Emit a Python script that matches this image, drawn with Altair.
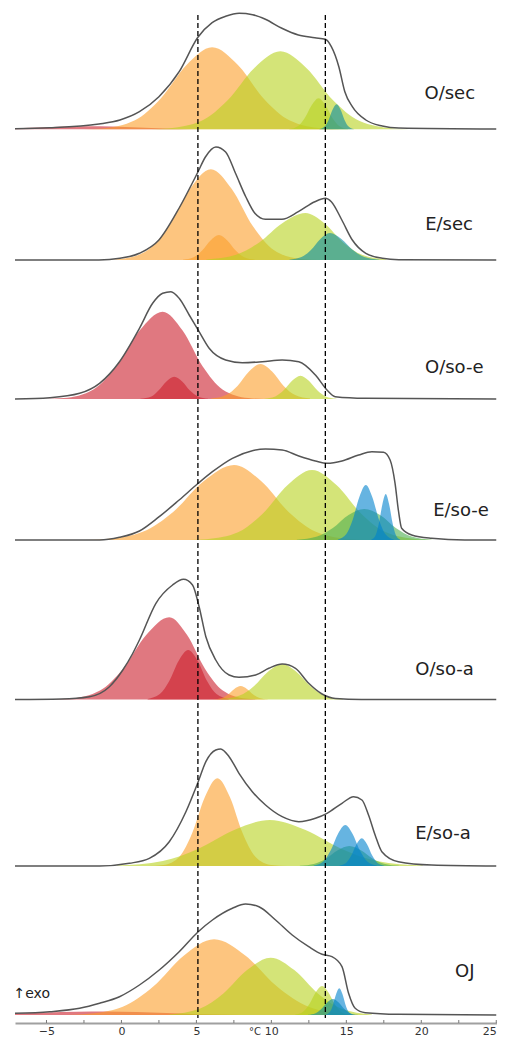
import altair as alt
import pandas as pd

# ---------------- data (temperature in °C, heat flow in arbitrary units) ----------------
PANELS = ["O/sec", "E/sec", "O/so-e", "E/so-e", "O/so-a", "E/so-a", "OJ"]

# O/sec
P1_ENV_T = [-7.1, -4.8, -1.5, -0.1, 1.2, 2.5, 3.85, 5.1, 6.05, 6.95, 7.85, 8.75, 9.6, 10.7, 11.8, 12.9, 13.6, 14.0, 14.5, 14.9, 15.4, 16.3, 17.4, 18.5, 25.0]
P1_ENV_H = [0.6, 1.5, 5.3, 9.3, 17.6, 32.6, 57.6, 92, 106.6, 113, 116, 114.6, 110, 101, 94.3, 91.6, 90, 82.6, 62.6, 37.6, 22.6, 9.3, 3.3, 1.3, 0.3]
P1_RED_T = [-7.1, -5.0, -3.25, -1.5, 0.25, 2.0, 3.75, 6.0]
P1_RED_H = [1.0, 2.0, 2.8, 3.0, 2.4, 1.2, 0.4, 0.0]
P1_ORANGE_T = [-2.5, -1.3, 0.9, 2.62, 4.34, 6.05, 7.77, 9.48, 11.2, 13.4, 14.6]
P1_ORANGE_H = [0, 0.9, 9.0, 30.8, 64.2, 82, 64.2, 30.8, 9.0, 0.9, 0]
P1_LGREEN_T = [2.0, 3.1, 5.35, 7.1, 8.85, 10.6, 12.35, 14.1, 15.85, 18.1, 19.2]
P1_LGREEN_H = [0, 0.9, 8.6, 29.3, 61.1, 78, 61.1, 29.3, 8.6, 0.9, 0]
P1_LGREEN2_T = [11.2, 11.79, 12.24, 12.7, 13.15, 13.6, 14.06, 14.52, 15.1]
P1_LGREEN2_H = [0.3, 3.4, 11.6, 24.3, 31, 24.3, 11.6, 3.4, 0.3]
P1_TEAL_T = [13.21, 13.55, 13.82, 14.08, 14.35, 14.62, 14.88, 15.15, 15.49]
P1_TEAL_H = [0.3, 2.75, 9.4, 19.6, 25, 19.6, 9.4, 2.75, 0.3]

# E/sec
P2_ENV_T = [-7.1, -1.5, -0.1, 1.2, 2.5, 3.85, 5.1, 5.6, 6.3, 6.95, 7.6, 8.3, 8.9, 9.6, 10.7, 11.8, 12.9, 13.6, 14.0, 14.7, 15.4, 16.3, 17.4, 18.5, 25.0]
P2_ENV_H = [0, 0, 1.7, 6.7, 20, 52, 88, 103, 113, 108, 87, 63, 46.7, 40.7, 40.7, 48.3, 58.3, 61.7, 58.3, 40, 20, 6.7, 1.7, 0.3, 0]
P2_ORANGE_T = [-1.2, -0.04, 1.76, 3.16, 4.56, 5.96, 7.36, 8.76, 10.16, 11.96, 13.1]
P2_ORANGE_H = [0, 1.0, 10.0, 34.0, 71.0, 90.7, 71.0, 34.0, 10.0, 1.0, 0]
P2_ORANGE2_T = [4.1, 4.82, 5.38, 5.94, 6.5, 7.06, 7.62, 8.18, 8.9]
P2_ORANGE2_H = [0.3, 2.75, 9.4, 19.6, 25, 19.6, 9.4, 2.75, 0.3]
P2_LGREEN_T = [5.67, 7.65, 9.19, 10.73, 12.27, 13.53, 14.79, 16.05, 17.67]
P2_LGREEN_H = [0.5, 5.2, 17.6, 36.8, 47, 36.8, 17.6, 5.2, 0.5]
P2_TEAL_T = [11.2, 12.01, 12.64, 13.27, 13.9, 14.67, 15.44, 16.21, 17.2]
P2_TEAL_H = [0.3, 3.0, 10.1, 21.1, 27, 21.1, 10.1, 3.0, 0.3]

# O/so-e
P3_ENV_T = [-7.1, -4.78, -2.79, -1.46, -0.13, 1.2, 2.08, 2.75, 3.3, 3.85, 4.52, 5.18, 5.85, 6.95, 8.06, 9.39, 10.72, 11.83, 12.94, 13.71, 14.26, 16.26, 25.0]
P3_ENV_H = [0, 1.3, 5.7, 15.7, 37.3, 70.7, 95.7, 105.7, 107.3, 100.7, 84, 67.3, 50.7, 39, 36.3, 37.3, 39, 37.3, 24, 9, 2.3, 0.7, 0]
P3_RED_T = [-5.5, -3.85, -1.87, -0.33, 1.21, 2.75, 4.08, 5.41, 6.74, 8.45, 9.6]
P3_RED_H = [0, 1.0, 9.6, 32.7, 68.4, 87.3, 68.4, 32.7, 9.6, 1.0, 0]
P3_RED2_T = [1.27, 2.0, 2.47, 3.0, 3.52, 4.05, 4.57, 5.1, 5.77]
P3_RED2_H = [0.25, 2.5, 8.4, 17.5, 22.3, 17.5, 8.4, 2.5, 0.25]
P3_ORANGE_T = [5.98, 6.97, 7.74, 8.51, 9.28, 10.05, 10.82, 11.59, 12.58]
P3_ORANGE_H = [0.4, 3.9, 13.1, 27.4, 35, 27.4, 13.1, 3.9, 0.4]
P3_LGREEN_T = [9.54, 10.26, 10.82, 11.38, 11.94, 12.5, 13.06, 13.62, 14.34]
P3_LGREEN_H = [0.26, 2.6, 8.7, 18.2, 23.3, 18.2, 8.7, 2.6, 0.26]

# E/so-e
P4_ENV_T = [-7.1, -1.46, -0.13, 1.2, 2.52, 3.85, 5.12, 6.07, 7.4, 8.73, 9.61, 10.72, 11.83, 12.94, 13.71, 14.71, 15.82, 16.7, 17.48, 17.92, 18.25, 18.47, 18.69, 19.36, 20.69, 22.9, 25.0]
P4_ENV_H = [0, 0, 2.7, 9, 23.3, 40, 56.7, 68.3, 81.7, 89.3, 91, 90, 84, 79, 76.7, 79, 85, 88.3, 87.7, 80, 56.7, 30, 11.7, 5, 1.7, 0, 0]
P4_ORANGE_T = [-2.5, -1.19, 1.42, 3.45, 5.48, 7.51, 9.33, 11.15, 12.97, 15.31, 16.5]
P4_ORANGE_H = [0, 0.8, 8.3, 28.1, 58.7, 75, 58.7, 28.1, 8.3, 0.8, 0]
P4_LGREEN_T = [4.5, 5.66, 7.78, 9.42, 11.07, 12.71, 14.36, 16.0, 17.65, 19.76, 20.9]
P4_LGREEN_H = [0, 0.8, 7.7, 26.3, 54.8, 70, 54.8, 26.3, 7.7, 0.8, 0]
P4_GREEN_T = [11.7, 13.05, 14.1, 15.15, 16.2, 17.25, 18.3, 19.35, 20.7]
P4_GREEN_H = [0.3, 3.5, 12, 25, 31, 25, 12, 3.5, 0.3]
P4_BLUE_T = [14.44, 15.0, 15.43, 15.87, 16.3, 16.73, 17.17, 17.6, 18.16]
P4_BLUE_H = [0.6, 6.0, 20.6, 43.1, 55, 43.1, 20.6, 6.0, 0.6]
P4_BLUE2_T = [16.67, 16.96, 17.18, 17.41, 17.63, 17.85, 18.08, 18.3, 18.59]
P4_BLUE2_H = [0.5, 5.1, 17.3, 36, 46, 36, 17.3, 5.1, 0.5]

# O/so-a
P5_ENV_T = [-7.1, -4.0, -2.13, -0.8, 0.09, 0.75, 1.2, 2.3, 3.41, 4.14, 4.74, 5.18, 5.63, 6.29, 7.18, 7.84, 8.95, 9.83, 10.72, 11.61, 12.49, 13.38, 14.27, 16.0, 25.0]
P5_ENV_H = [0, 0.5, 2.8, 12.8, 29.5, 46, 59.5, 96.2, 114.5, 120.2, 114.5, 92.8, 62.8, 39.5, 24.5, 22.2, 24.5, 31.2, 35.5, 31.2, 16.2, 5.5, 1.0, 0, 0]
P5_RED_T = [-4.6, -3.41, -1.43, 0.11, 1.65, 3.19, 4.38, 5.57, 6.76, 8.29, 9.3]
P5_RED_H = [0, 0.9, 9.0, 30.8, 64.4, 82.2, 64.4, 30.8, 9.0, 0.9, 0]
P5_RED2_T = [1.75, 2.56, 3.19, 3.82, 4.45, 5.08, 5.71, 6.34, 7.15]
P5_RED2_H = [0.5, 5.4, 18.6, 38.8, 49.5, 38.8, 18.6, 5.4, 0.5]
P5_ORANGE_T = [6.15, 6.69, 7.11, 7.53, 7.95, 8.37, 8.79, 9.21, 9.75]
P5_ORANGE_H = [0.15, 1.5, 5.1, 10.6, 13.5, 10.6, 5.1, 1.5, 0.15]
P5_LGREEN_T = [6.67, 7.885, 8.83, 9.775, 10.72, 11.665, 12.61, 13.555, 14.77]
P5_LGREEN_H = [0.4, 3.9, 13.3, 27.8, 35.5, 27.8, 13.3, 3.9, 0.4]

# E/so-a
P6_ENV_T = [-7.1, -1.46, 0.53, 1.86, 3.19, 4.3, 5.12, 5.63, 6.29, 6.62, 7.18, 7.84, 8.73, 9.61, 10.72, 11.83, 12.94, 13.71, 14.71, 15.48, 16.04, 16.48, 16.92, 17.37, 18.47, 20.69, 25.0]
P6_ENV_H = [0, 0, 2.7, 7.7, 24.3, 54.3, 84.3, 104.3, 116, 117, 109.3, 92.7, 74.3, 61, 49.3, 44.3, 47.7, 52.7, 62.7, 69.3, 66, 51, 31, 14.3, 4.3, 1, 0]
P6_ORANGE_T = [1.7, 2.8, 3.88, 4.72, 5.56, 6.4, 7.24, 8.08, 8.92, 10.0, 11.1]
P6_ORANGE_H = [0, 1.0, 9.6, 32.9, 68.7, 87.7, 68.7, 32.9, 9.6, 1.0, 0]
P6_LGREEN_T = [-0.3, 2.76, 5.14, 7.52, 9.9, 12.28, 14.66, 17.04, 20.1]
P6_LGREEN_H = [0.5, 5.1, 17.3, 36.0, 46, 36.0, 17.3, 5.1, 0.5]
P6_GREEN_T = [11.9, 12.89, 13.66, 14.43, 15.2, 15.97, 16.74, 17.51, 18.5]
P6_GREEN_H = [0.2, 2.2, 7.5, 15.7, 20, 15.7, 7.5, 2.2, 0.2]
P6_BLUE_T = [12.83, 13.46, 13.95, 14.44, 14.93, 15.42, 15.91, 16.4, 17.03]
P6_BLUE_H = [0.45, 4.5, 15.4, 32.1, 41, 32.1, 15.4, 4.5, 0.45]
P6_BLUE2_T = [14.53, 14.98, 15.33, 15.68, 16.03, 16.38, 16.73, 17.08, 17.53]
P6_BLUE2_H = [0.3, 3.0, 10.4, 21.7, 27.7, 21.7, 10.4, 3.0, 0.3]

# OJ
P7_ENV_T = [-7.1, -4.78, -2.79, -1.46, -0.13, 1.2, 2.52, 3.85, 5.12, 6.07, 7.4, 8.28, 9.17, 10.28, 11.39, 12.49, 13.38, 14.04, 14.71, 15.15, 15.59, 16.26, 18.47, 25.0]
P7_ENV_H = [1.7, 3.3, 6.7, 11.7, 18.3, 30, 45, 63.3, 83.3, 95, 106.7, 111, 108.3, 95, 80, 68.3, 60.7, 58.3, 48.3, 21.7, 6.7, 2.3, 0.7, 0]
P7_RED_T = [-7.1, -5.0, -3.0, -1.0, 1.0, 3.0, 5.0, 7.0, 9.0]
P7_RED_H = [1.5, 2.5, 3.2, 3.5, 3.0, 2.0, 0.8, 0.2, 0.0]
P7_ORANGE_T = [-3.8, -2.52, 0.09, 2.12, 4.15, 6.18, 8.28, 10.38, 12.48, 15.18, 16.5]
P7_ORANGE_H = [0, 0.8, 8.3, 28.4, 59.3, 75.7, 59.3, 28.4, 8.3, 0.8, 0]
P7_LGREEN_T = [3.2, 5.22, 6.8, 8.38, 9.95, 11.53, 13.1, 14.68, 16.7]
P7_LGREEN_H = [0.6, 6.3, 21.5, 44.9, 57.3, 44.9, 21.5, 6.3, 0.6]
P7_LGREEN2_T = [11.58, 12.12, 12.54, 12.96, 13.38, 13.8, 14.22, 14.64, 15.18]
P7_LGREEN2_H = [0.3, 3.2, 10.9, 22.7, 29, 22.7, 10.9, 3.2, 0.3]
P7_TEAL_T = [12.45, 12.95, 13.33, 13.72, 14.1, 14.49, 14.87, 15.26, 15.75]
P7_TEAL_H = [0.2, 1.8, 6.0, 12.5, 16, 12.5, 6.0, 1.8, 0.2]
P7_BLUE_T = [13.63, 13.9, 14.11, 14.32, 14.53, 14.74, 14.95, 15.16, 15.43]
P7_BLUE_H = [0.3, 2.9, 10.0, 20.9, 26.7, 20.9, 10.0, 2.9, 0.3]

DASH_T = [5.1, 13.6]
TICK_LABELS = [-5, 0, 5, 10, 15, 20, 25]
MINOR_TICKS = [-5, -2.5, 0, 2.5, 5, 7.5, 10, 12.5, 15, 17.5, 20, 22.5, 25]
X_TITLE = "°C"

# ---------------- layout (vertical offset of each panel, label anchors) ----------------
PANEL_BASE = [893.7, 763, 624, 483, 323.5, 157, 8]
LABEL_T = [21.9, 21.85, 22.2, 22.65, 21.55, 21.45, 22.9]
LABEL_DY = [35, 35, 31, 29, 30, 32, 43]

KINDS = ["red", "orange", "lgreen", "green", "teal", "blue"]
KIND_COLORS = ["#cb1e2b", "#fb9e2a", "#b7d21e", "#4caf50", "#0a8ca0", "#0082cd"]

PEAKS = [
    (0, "red", P1_RED_T, P1_RED_H), (0, "orange", P1_ORANGE_T, P1_ORANGE_H),
    (0, "lgreen", P1_LGREEN_T, P1_LGREEN_H), (0, "lgreen", P1_LGREEN2_T, P1_LGREEN2_H),
    (0, "teal", P1_TEAL_T, P1_TEAL_H),
    (1, "orange", P2_ORANGE_T, P2_ORANGE_H), (1, "orange", P2_ORANGE2_T, P2_ORANGE2_H),
    (1, "lgreen", P2_LGREEN_T, P2_LGREEN_H), (1, "teal", P2_TEAL_T, P2_TEAL_H),
    (2, "red", P3_RED_T, P3_RED_H), (2, "red", P3_RED2_T, P3_RED2_H),
    (2, "orange", P3_ORANGE_T, P3_ORANGE_H), (2, "lgreen", P3_LGREEN_T, P3_LGREEN_H),
    (3, "orange", P4_ORANGE_T, P4_ORANGE_H), (3, "lgreen", P4_LGREEN_T, P4_LGREEN_H),
    (3, "green", P4_GREEN_T, P4_GREEN_H), (3, "blue", P4_BLUE_T, P4_BLUE_H),
    (3, "blue", P4_BLUE2_T, P4_BLUE2_H),
    (4, "red", P5_RED_T, P5_RED_H), (4, "red", P5_RED2_T, P5_RED2_H),
    (4, "orange", P5_ORANGE_T, P5_ORANGE_H), (4, "lgreen", P5_LGREEN_T, P5_LGREEN_H),
    (5, "orange", P6_ORANGE_T, P6_ORANGE_H), (5, "lgreen", P6_LGREEN_T, P6_LGREEN_H),
    (5, "green", P6_GREEN_T, P6_GREEN_H), (5, "blue", P6_BLUE_T, P6_BLUE_H),
    (5, "blue", P6_BLUE2_T, P6_BLUE2_H),
    (6, "red", P7_RED_T, P7_RED_H), (6, "orange", P7_ORANGE_T, P7_ORANGE_H),
    (6, "lgreen", P7_LGREEN_T, P7_LGREEN_H), (6, "lgreen", P7_LGREEN2_T, P7_LGREEN2_H),
    (6, "teal", P7_TEAL_T, P7_TEAL_H), (6, "blue", P7_BLUE_T, P7_BLUE_H),
]
ENVS = [(0, P1_ENV_T, P1_ENV_H), (1, P2_ENV_T, P2_ENV_H), (2, P3_ENV_T, P3_ENV_H),
        (3, P4_ENV_T, P4_ENV_H), (4, P5_ENV_T, P5_ENV_H), (5, P6_ENV_T, P6_ENV_H),
        (6, P7_ENV_T, P7_ENV_H)]

peak_rows = []
for k, (pi, kind, ts, hs) in enumerate(PEAKS):
    for t, h in zip(ts, hs):
        peak_rows.append({"pid": k, "kind": kind, "T": t, "y": PANEL_BASE[pi] + h, "y0": PANEL_BASE[pi]})
peaks_df = pd.DataFrame(peak_rows)

env_rows = []
for pi, ts, hs in ENVS:
    for t, h in zip(ts, hs):
        env_rows.append({"panel": PANELS[pi], "T": t, "y": PANEL_BASE[pi] + h})
env_df = pd.DataFrame(env_rows)

labels_df = pd.DataFrame({"label": PANELS, "T": LABEL_T,
                          "y": [b + d for b, d in zip(PANEL_BASE, LABEL_DY)]})
dash_df = pd.DataFrame({"T": DASH_T})
ticks_df = pd.DataFrame({"T": MINOR_TICKS})
exo_df = pd.DataFrame({"label": ["↑exo"], "T": [-7.2], "y": [29]})
xtitle_df = pd.DataFrame({"label": [X_TITLE], "T": [8.9]})

XS = alt.Scale(domain=[-7.1, 25.05], nice=False, zero=False)
YS = alt.Scale(domain=[0, 1015], nice=False, zero=False)
XAX = alt.Axis(values=TICK_LABELS, ticks=False, grid=False, domainColor="#a0a0a0", domainWidth=2,
               labelFont="DejaVu Sans", labelFontSize=11, labelColor="#333333", labelPadding=2,
               labelFlush=3, labelFlushOffset=0)


def X():
    return alt.X("T:Q", scale=XS, axis=XAX, title=None)


def Y(field="y"):
    return alt.Y(f"{field}:Q", scale=YS, axis=None, stack=None)


areas = alt.Chart(peaks_df).mark_area(interpolate="monotone", opacity=0.6).encode(
    x=X(), y=Y(), y2="y0:Q",
    color=alt.Color("kind:N", scale=alt.Scale(domain=KINDS, range=KIND_COLORS), legend=None),
    detail="pid:N",
)

env = alt.Chart(env_df).mark_line(interpolate="monotone", color="#555555", strokeWidth=1.5).encode(
    x=X(), y=Y(), detail="panel:N"
)

dashes = alt.Chart(dash_df).mark_rule(color="black", strokeWidth=1.3, strokeDash=[5, 3]).encode(
    x=X(), y=alt.value(7), y2=alt.value(1010)
)

ticks = alt.Chart(ticks_df).mark_rule(color="#777777", strokeWidth=1).encode(
    x=X(), y=alt.value(1015), y2=alt.value(1012)
)

labels = alt.Chart(labels_df).mark_text(font="DejaVu Sans", fontSize=18, color="#222222",
                                        baseline="middle", align="center").encode(
    x=X(), y=Y(), text="label:N"
)

exo = alt.Chart(exo_df).mark_text(font="DejaVu Sans", fontSize=14, color="#222222",
                                  baseline="middle", align="left").encode(
    x=X(), y=Y(), text="label:N"
)

xtitle = alt.Chart(xtitle_df).mark_text(font="DejaVu Sans", fontSize=10, color="#333333",
                                        baseline="top", align="center").encode(
    x=X(), y=alt.value(1019), text="label:N"
)

chart = alt.layer(areas, env, dashes, ticks, labels, exo, xtitle).properties(
    width=482, height=1015,
    padding={"left": 7, "top": 0, "right": 0, "bottom": 15},
    autosize=alt.AutoSizeParams(type="none"),
).configure_view(strokeWidth=0)

chart.save("out.html", embed_options={"renderer": "svg", "actions": False})
